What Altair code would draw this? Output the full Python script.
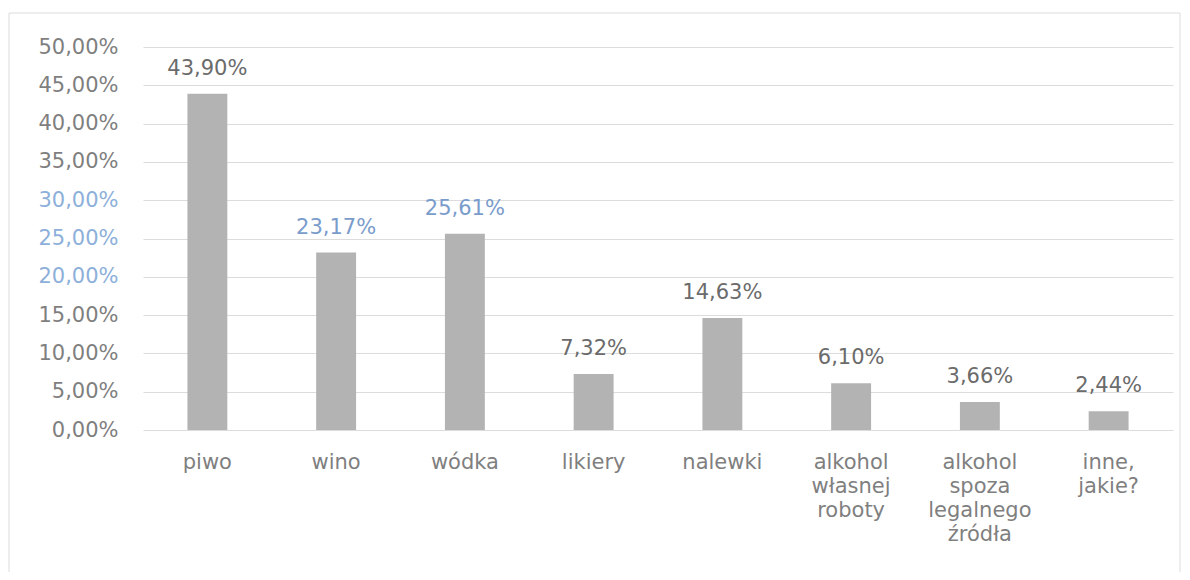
import altair as alt
import pandas as pd

categories = [
    "piwo", "wino", "wódka", "likiery", "nalewki",
    "alkohol\nwłasnej\nroboty", "alkohol\nspoza\nlegalnego\nźródła", "inne,\njakie?",
]
values = [43.90, 23.17, 25.61, 7.32, 14.63, 6.10, 3.66, 2.44]
y_ticks = [0, 5, 10, 15, 20, 25, 30, 35, 40, 45, 50]

df = pd.DataFrame({"kat": categories, "val": [v / 100 for v in values]})

FONT = "DejaVu Sans"
pct_expr = "replace(format(datum.value, '.2%'), '.', ',')"

base = alt.Chart(df).encode(
    x=alt.X(
        "kat:N",
        sort=categories,
        title=None,
        scale=alt.Scale(paddingInner=0.69, paddingOuter=0.345),
        axis=alt.Axis(
            labelAngle=0,
            labelExpr="split(datum.value, '\\n')",
            labelFont=FONT,
            labelFontSize=21,
            labelColor="#7f7f7f",
            labelLineHeight=24,
            labelPadding=21,
            domain=False,
            ticks=False,
            grid=False,
        ),
    ),
    y=alt.Y(
        "val:Q",
        title=None,
        scale=alt.Scale(domain=[0, 0.5], nice=False),
        axis=alt.Axis(
            values=[t / 100 for t in y_ticks],
            labelExpr=pct_expr,
            labelFont=FONT,
            labelFontSize=21,
            labelColor={
                "condition": {"test": "datum.value >= 0.19 && datum.value <= 0.31", "value": "#8db0da"},
                "value": "#7f7f7f",
            },
            labelPadding=25,
            domain=False,
            ticks=False,
            grid=True,
            gridColor="#dcdcdc",
            gridWidth=1,
        ),
    ),
)

bars = base.mark_bar(color="#b3b3b3")

labels = base.transform_calculate(
    lbl="replace(format(datum.val, '.2%'), '.', ',')"
).mark_text(
    font=FONT, fontSize=21, baseline="alphabetic", dy=-19
).encode(
    text="lbl:N",
    color=alt.condition(
        "datum.kat == 'wino' || datum.kat == 'wódka'",
        alt.value("#7a9ccb"),
        alt.value("#6b6b6b"),
    ),
)

frame = alt.Chart(alt.Data(values=[{}])).mark_rect(
    filled=False, stroke="#dcdcdc", strokeWidth=1
).encode(
    x=alt.value(-134), x2=alt.value(1037), y=alt.value(-34), y2=alt.value(560)
)

chart = alt.layer(frame, bars, labels).properties(
    width=1030,
    height=383,
    autosize=alt.AutoSizeParams(type="none"),
    padding={"left": 135, "top": 39, "right": 8, "bottom": 142},
).configure_view(stroke=None)

chart.save("out.html", embed_options={"renderer": "svg", "actions": False})
